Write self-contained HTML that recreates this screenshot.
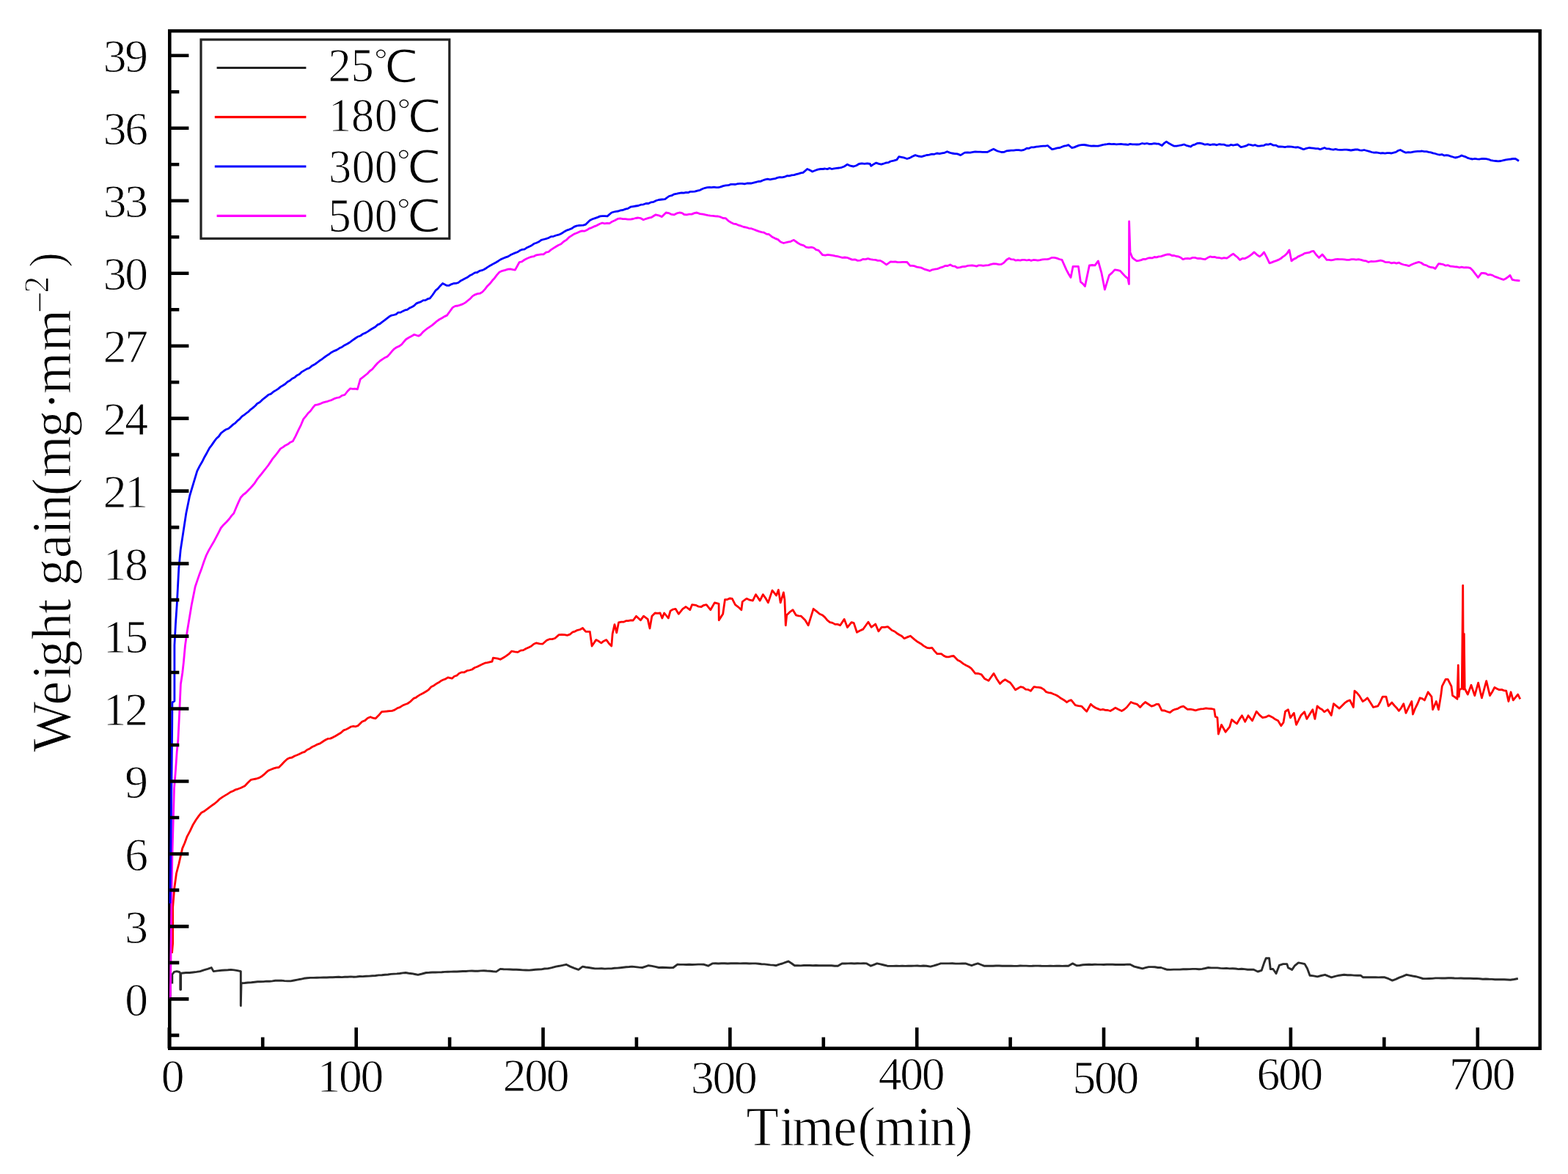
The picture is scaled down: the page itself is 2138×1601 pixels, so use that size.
<!DOCTYPE html>
<html><head><meta charset="utf-8"><title>Weight gain vs time</title>
<style>html,body{margin:0;padding:0;background:#fff;overflow:hidden}svg{display:block}
text{font-family:"Liberation Serif","Noto Serif CJK SC",serif;fill:#000}</style></head>
<body><svg width="2138" height="1601" viewBox="0 0 2138 1601">
<rect width="2138" height="1601" fill="#fff"/>

<rect x="231.3" y="42.2" width="1868.5" height="1387.5" fill="none" stroke="#000" stroke-width="4.6"/>
<g fill="none" stroke-linejoin="round" stroke-linecap="butt">
<polyline stroke="#2b2b2b" stroke-width="2.9" points="234.8,1341.5 234.8,1329.0 237.5,1325.3 241.0,1324.6 244.5,1325.5 245.8,1327.0 245.8,1349.5 246.6,1349.5 246.6,1327.4 249.0,1327.0 253.7,1326.5 258.4,1326.5 263.1,1326.0 268.0,1325.4 272.9,1324.6 278.0,1322.8 283.2,1321.3 288.3,1319.6 291.1,1324.6 296.8,1323.9 302.4,1323.2 306.6,1323.0 310.8,1322.8 315.0,1322.4 319.4,1322.9 323.9,1323.6 328.3,1324.6 328.3,1371.6 329.0,1340.7 333.6,1340.5 338.1,1340.0 342.7,1339.8 347.3,1339.3 351.3,1338.8 355.4,1338.7 359.4,1338.6 363.4,1338.1 367.4,1338.2 371.4,1337.9 375.5,1337.2 379.5,1337.2 383.7,1337.1 387.9,1337.6 392.2,1337.9 396.4,1337.9 400.9,1337.0 405.4,1336.1 409.8,1335.3 414.3,1334.3 418.8,1333.7 423.2,1333.4 427.7,1333.4 432.1,1333.3 436.6,1333.1 441.1,1333.0 445.5,1333.0 449.6,1332.7 453.7,1332.7 457.8,1332.5 461.9,1332.3 466.0,1332.6 470.1,1332.3 474.1,1332.3 478.2,1331.9 482.3,1332.2 486.4,1332.0 490.5,1331.5 494.6,1331.6 498.9,1331.2 503.3,1331.1 507.6,1330.7 512.0,1330.5 516.3,1329.9 520.7,1329.8 525.0,1329.3 529.0,1329.0 533.0,1328.4 537.0,1328.1 541.1,1327.9 545.1,1327.5 549.1,1326.9 553.1,1326.5 557.3,1327.2 561.5,1327.7 565.7,1328.5 569.9,1329.3 575.5,1328.0 581.1,1326.5 585.3,1326.3 589.5,1326.0 593.7,1326.0 598.0,1325.9 602.2,1325.7 606.4,1325.4 610.6,1325.2 614.8,1325.1 618.9,1325.0 623.0,1325.0 627.0,1324.7 631.1,1324.5 635.2,1324.5 639.3,1324.1 643.4,1324.0 647.5,1324.2 651.5,1324.2 655.6,1323.9 659.7,1323.7 663.9,1324.0 668.2,1324.2 672.4,1324.8 676.6,1325.1 682.2,1321.4 686.6,1321.8 690.9,1321.9 695.3,1322.0 699.7,1322.3 704.0,1322.2 708.4,1322.5 712.8,1322.9 717.1,1323.0 721.5,1323.1 725.7,1322.7 729.9,1322.3 734.1,1322.0 738.3,1321.9 742.5,1321.0 746.7,1320.9 752.4,1319.6 758.0,1318.1 762.7,1317.3 767.3,1316.4 772.0,1315.3 777.6,1318.1 783.2,1320.3 788.8,1322.3 794.4,1318.1 798.6,1319.0 802.8,1319.5 807.1,1320.2 811.3,1320.9 815.8,1320.9 820.3,1320.7 824.7,1321.1 829.2,1320.9 833.7,1320.9 837.7,1320.3 841.7,1320.1 845.7,1319.7 849.8,1319.2 853.8,1318.8 857.8,1318.5 861.8,1318.1 866.5,1318.6 871.1,1319.1 875.8,1319.5 880.0,1318.1 884.2,1316.7 888.9,1317.4 893.6,1318.4 898.3,1319.5 903.2,1319.3 908.1,1319.5 913.1,1319.7 918.0,1319.5 923.5,1315.3 927.6,1315.4 931.6,1315.4 935.7,1315.5 939.7,1315.2 943.8,1315.5 947.8,1315.4 951.9,1315.1 955.9,1315.1 960.0,1315.3 965.6,1317.2 971.3,1313.9 975.5,1313.7 979.7,1314.0 983.9,1313.8 988.1,1313.7 992.3,1314.0 996.5,1313.8 1000.8,1313.7 1005.0,1313.7 1009.2,1313.9 1013.4,1313.7 1017.6,1313.8 1021.8,1314.0 1026.0,1313.9 1030.2,1313.9 1034.2,1314.2 1038.2,1314.7 1042.2,1314.9 1046.3,1315.4 1050.3,1315.9 1054.3,1316.1 1058.3,1316.7 1062.5,1315.1 1066.7,1314.0 1070.9,1312.4 1075.1,1311.0 1079.3,1313.7 1083.5,1316.7 1087.7,1316.8 1091.8,1316.9 1096.0,1316.5 1100.1,1316.5 1104.2,1316.5 1108.4,1316.8 1112.5,1316.5 1116.7,1316.8 1120.8,1316.8 1125.0,1316.7 1129.4,1316.8 1133.8,1316.8 1138.1,1317.3 1142.5,1317.2 1148.1,1313.9 1152.3,1314.0 1156.5,1313.9 1160.7,1313.8 1164.9,1314.0 1169.1,1313.8 1173.3,1313.9 1177.5,1313.8 1181.7,1313.9 1187.4,1317.2 1191.6,1315.6 1195.8,1313.9 1200.5,1314.8 1205.1,1316.0 1209.8,1317.2 1213.9,1317.4 1218.0,1317.4 1222.1,1317.1 1226.2,1317.4 1230.3,1317.1 1234.4,1317.4 1238.5,1317.3 1242.6,1317.2 1246.7,1317.1 1250.8,1317.0 1254.9,1317.4 1259.0,1317.0 1263.1,1317.2 1268.7,1318.1 1273.4,1316.9 1278.1,1315.5 1282.8,1313.9 1288.4,1313.9 1294.0,1313.9 1298.5,1313.7 1303.0,1314.1 1307.5,1314.1 1312.0,1314.0 1316.5,1313.9 1320.7,1315.3 1324.9,1316.7 1329.1,1315.2 1333.3,1313.9 1337.5,1315.5 1341.7,1317.2 1345.8,1317.1 1349.9,1317.3 1354.0,1317.2 1358.1,1317.0 1362.3,1317.0 1366.4,1317.3 1370.5,1317.1 1374.6,1317.2 1378.7,1317.1 1382.8,1317.4 1386.9,1317.4 1391.0,1317.0 1395.1,1317.1 1399.2,1317.1 1403.4,1317.4 1407.5,1317.3 1411.6,1317.1 1415.7,1317.1 1419.8,1317.3 1423.9,1317.4 1428.0,1317.4 1432.1,1317.1 1436.2,1317.4 1440.4,1317.3 1444.5,1317.2 1448.6,1317.4 1452.7,1317.1 1456.8,1317.2 1462.4,1313.9 1468.0,1316.7 1472.2,1316.5 1476.5,1315.8 1480.7,1315.5 1484.9,1315.3 1488.9,1315.5 1492.9,1315.2 1496.9,1315.4 1500.9,1315.4 1504.9,1315.5 1508.9,1315.2 1513.0,1315.2 1517.0,1315.2 1521.0,1315.5 1525.0,1315.4 1529.0,1315.5 1533.0,1315.5 1537.0,1315.1 1541.0,1315.3 1546.6,1318.1 1552.2,1319.5 1557.8,1320.9 1562.0,1319.6 1566.3,1318.6 1570.5,1318.6 1574.7,1318.8 1578.9,1319.5 1583.1,1319.5 1587.3,1321.0 1591.5,1322.3 1595.8,1322.4 1600.2,1322.1 1604.5,1322.1 1608.8,1322.1 1613.2,1321.8 1617.5,1321.8 1621.9,1321.6 1626.2,1321.4 1630.5,1321.4 1634.9,1321.7 1639.2,1321.4 1643.4,1320.5 1647.6,1319.5 1651.7,1319.9 1655.8,1319.9 1660.0,1319.9 1664.1,1320.4 1668.2,1320.6 1672.3,1320.4 1676.4,1320.9 1680.6,1320.8 1684.7,1321.0 1688.8,1321.6 1692.9,1321.3 1697.0,1321.6 1701.2,1322.2 1705.3,1322.1 1709.4,1322.3 1715.0,1325.0 1720.2,1323.3 1723.7,1312.9 1726.2,1306.8 1730.6,1306.8 1732.3,1321.5 1735.8,1321.5 1740.1,1327.6 1744.4,1316.3 1749.6,1314.6 1754.8,1314.6 1756.5,1319.8 1761.7,1322.4 1765.2,1317.2 1770.4,1312.9 1774.7,1313.6 1779.0,1314.6 1782.5,1320.7 1786.0,1330.2 1791.2,1330.9 1796.3,1331.9 1801.5,1330.5 1806.7,1329.3 1811.1,1331.2 1815.4,1332.8 1820.6,1331.3 1825.8,1330.2 1832.7,1329.3 1837.2,1329.7 1841.7,1329.6 1846.2,1330.1 1850.7,1330.2 1855.2,1330.2 1858.6,1332.8 1862.8,1332.7 1867.0,1332.7 1871.2,1332.8 1875.5,1332.6 1879.7,1332.9 1883.9,1332.6 1888.1,1332.8 1893.3,1334.7 1898.5,1337.1 1903.2,1335.4 1908.0,1333.1 1912.8,1331.3 1917.5,1329.3 1921.8,1330.1 1926.2,1331.0 1930.5,1331.7 1934.8,1332.8 1940.0,1334.5 1944.3,1334.6 1948.7,1334.5 1953.0,1334.4 1957.3,1333.9 1961.6,1333.9 1965.9,1334.0 1970.3,1334.0 1974.6,1333.7 1978.9,1333.8 1983.2,1334.0 1987.6,1334.1 1991.9,1334.0 1996.2,1334.2 2000.5,1334.2 2004.9,1334.3 2009.2,1334.5 2013.4,1334.4 2017.6,1334.7 2021.8,1335.2 2025.9,1335.0 2030.1,1335.3 2034.3,1335.4 2038.5,1335.7 2042.7,1335.6 2046.9,1335.7 2051.0,1335.8 2055.2,1336.0 2059.4,1336.2 2064.6,1335.5 2069.8,1334.5"/>
<polyline stroke="#f00" stroke-width="2.8" points="234.5,1300.0 235.6,1287.0 235.6,1238.0 237.8,1211.0 240.5,1191.0 243.9,1178.0 248.7,1156.9 251.9,1149.5 255.2,1140.6 259.2,1133.2 263.3,1124.4 267.1,1118.3 270.9,1112.9 274.7,1108.2 279.0,1105.9 283.4,1102.6 289.0,1098.4 292.5,1096.0 296.1,1093.0 299.6,1089.6 303.1,1087.1 306.8,1084.9 310.6,1082.6 314.3,1080.1 317.8,1078.8 321.3,1076.8 324.8,1075.8 328.3,1074.5 333.9,1071.7 338.1,1067.3 342.3,1063.3 345.8,1062.6 349.4,1062.0 352.9,1060.9 356.4,1059.1 359.7,1056.4 362.9,1053.4 366.2,1050.7 369.7,1049.3 373.2,1047.9 376.7,1046.8 380.2,1046.5 384.0,1042.7 387.7,1038.7 391.5,1035.2 394.9,1033.6 398.2,1033.0 401.6,1031.0 404.9,1029.7 408.3,1028.2 411.8,1026.4 415.3,1025.4 418.8,1022.5 422.3,1020.9 425.8,1018.5 429.3,1017.0 432.8,1015.1 436.4,1013.9 439.9,1011.5 443.4,1009.3 446.9,1007.4 450.4,1007.1 453.9,1005.6 457.4,1003.7 461.1,1001.5 464.9,999.2 468.6,995.9 471.9,994.7 475.2,993.1 478.5,991.0 481.8,990.3 485.0,990.8 488.3,989.6 493.9,984.0 497.6,982.6 501.4,979.3 505.1,977.7 508.6,979.2 512.1,979.8 516.3,975.6 520.5,970.7 524.0,970.3 527.5,970.0 531.1,969.6 534.6,969.3 538.1,968.2 541.6,965.8 545.1,964.6 548.6,962.3 552.1,960.7 555.6,959.5 559.8,956.6 564.0,952.4 567.0,951.4 570.0,949.1 573.7,946.9 577.5,945.0 581.2,942.8 584.7,940.3 588.2,936.4 591.5,934.9 594.8,932.6 598.1,930.8 601.2,928.6 604.4,927.0 607.6,925.9 610.7,923.8 616.3,925.2 619.6,922.3 622.8,921.2 626.1,918.2 629.6,916.8 633.2,916.8 636.7,914.7 640.2,914.0 643.7,913.0 647.2,910.5 650.7,909.3 654.2,907.4 657.7,905.8 661.2,904.2 664.5,903.7 667.7,902.9 671.0,902.1 672.4,897.2 675.7,897.6 678.9,898.1 682.2,899.3 685.8,897.2 689.3,895.1 693.5,892.2 697.7,888.0 701.9,888.9 706.1,889.4 709.8,887.1 713.6,886.6 717.3,884.5 720.8,882.9 724.3,881.3 727.9,878.2 731.4,876.8 735.6,877.9 739.8,878.2 745.4,873.3 749.1,871.7 752.9,871.7 756.6,870.5 762.2,865.6 766.0,865.5 769.7,865.6 773.5,866.3 777.0,865.2 780.5,862.2 784.0,861.1 787.5,859.3 791.0,858.5 794.5,856.5 798.7,861.4 804.3,861.4 807.1,881.0 812.7,872.6 816.2,874.3 819.8,876.8 823.3,874.2 826.8,872.6 830.3,877.4 833.8,881.0 835.2,864.2 838.0,851.6 840.8,862.8 843.6,848.8 846.9,848.2 850.2,848.2 853.5,846.7 856.7,846.7 860.0,845.9 863.3,846.0 867.5,840.3 873.4,845.8 877.6,840.2 883.2,844.4 886.0,857.0 888.9,840.2 893.1,836.0 896.6,836.3 900.1,836.0 902.9,843.0 905.7,836.0 911.3,843.0 914.1,833.1 917.6,831.0 921.1,830.3 925.3,837.3 930.9,830.3 935.2,827.5 940.8,831.7 943.6,824.7 949.2,825.4 952.7,827.2 956.2,827.5 959.7,825.3 963.2,824.7 968.8,831.7 974.4,821.9 980.1,823.3 980.3,845.8 985.7,837.3 988.5,817.7 991.8,817.6 995.0,816.0 998.3,816.3 1002.5,824.7 1006.7,827.8 1010.9,831.7 1012.3,820.5 1017.9,816.3 1022.2,818.2 1026.4,819.1 1030.6,810.7 1036.2,819.1 1040.4,810.7 1043.9,815.8 1047.4,821.9 1053.0,805.1 1058.6,812.1 1061.4,804.4 1064.2,821.9 1068.4,807.9 1069.9,817.7 1071.3,852.8 1072.7,838.8 1076.9,834.7 1081.1,831.7 1085.3,838.8 1088.8,839.8 1092.3,840.2 1097.9,845.8 1102.1,852.8 1109.1,830.3 1113.3,833.6 1117.6,837.3 1121.1,838.7 1124.6,841.6 1128.1,845.9 1131.6,848.6 1135.1,849.4 1138.6,851.4 1142.1,851.4 1145.6,852.8 1151.2,844.4 1155.4,855.6 1161.0,848.6 1164.2,849.6 1168.4,862.3 1172.6,860.0 1176.8,858.1 1180.3,853.3 1183.9,848.2 1188.1,855.3 1193.7,851.0 1197.9,860.9 1202.1,855.3 1206.3,855.3 1210.5,854.6 1216.1,859.5 1219.6,861.0 1223.1,863.7 1226.4,865.8 1229.7,867.6 1233.0,870.7 1237.2,868.9 1241.4,867.2 1247.0,872.1 1251.2,875.3 1255.4,877.7 1259.6,880.9 1263.8,883.3 1267.3,883.9 1270.8,883.3 1274.3,887.9 1277.9,891.7 1283.5,891.7 1287.0,894.4 1290.5,895.9 1293.8,895.8 1297.0,894.9 1300.3,894.5 1305.9,900.2 1309.6,902.1 1313.4,905.1 1317.1,907.2 1320.7,909.0 1324.2,911.4 1329.8,918.4 1334.0,918.5 1338.2,919.8 1342.4,925.4 1348.0,928.2 1351.5,923.2 1355.0,918.4 1359.2,926.0 1363.5,932.4 1367.0,929.0 1370.5,926.8 1374.0,929.0 1377.5,931.0 1381.0,935.7 1384.5,940.8 1388.0,938.7 1391.5,936.6 1395.0,937.4 1398.5,940.1 1402.0,940.4 1405.5,942.2 1409.8,936.6 1413.1,937.2 1416.3,937.4 1419.6,938.0 1423.1,940.1 1426.6,943.7 1429.9,944.7 1433.1,945.0 1436.4,946.5 1439.7,947.7 1442.9,949.5 1446.2,952.1 1450.4,954.4 1454.6,957.7 1457.6,955.6 1460.6,954.7 1466.2,961.7 1470.4,962.6 1474.6,963.1 1478.2,966.7 1481.7,970.2 1487.3,960.3 1490.6,963.2 1493.8,965.2 1497.1,966.6 1500.5,968.0 1503.8,967.3 1507.2,968.3 1510.5,968.5 1513.9,969.5 1517.4,967.5 1520.9,965.2 1525.2,967.5 1529.4,969.5 1532.9,967.5 1536.4,964.5 1542.0,957.5 1546.2,959.2 1550.4,960.3 1554.6,964.5 1558.1,960.6 1561.6,957.5 1565.8,960.2 1570.1,963.1 1573.4,962.2 1576.6,960.4 1579.9,960.3 1584.1,968.8 1587.8,969.0 1591.6,970.5 1595.3,971.6 1598.8,968.8 1602.3,967.3 1606.1,966.3 1609.8,964.1 1613.6,963.1 1619.2,967.3 1622.9,967.2 1626.7,967.8 1630.4,968.8 1633.9,967.6 1637.4,966.9 1640.9,966.7 1644.4,965.9 1648.1,966.3 1651.9,966.5 1655.6,967.3 1657.1,977.2 1659.9,978.6 1661.3,1001.0 1665.5,988.4 1671.1,998.2 1676.7,991.2 1679.5,981.4 1683.0,984.4 1686.5,987.0 1690.0,980.9 1693.5,975.8 1697.7,984.2 1702.0,975.8 1707.6,982.8 1713.2,970.2 1717.4,975.1 1721.6,978.6 1725.8,977.9 1730.0,975.8 1735.6,978.6 1739.1,981.1 1742.6,982.8 1746.8,989.8 1750.0,985.2 1752.5,970.2 1756.4,967.7 1759.5,978.8 1764.3,972.4 1767.5,988.3 1770.7,981.8 1773.9,975.6 1778.6,970.8 1781.8,980.4 1785.8,974.1 1789.8,967.7 1792.9,980.4 1796.1,962.9 1799.3,965.7 1802.5,967.4 1805.7,970.8 1810.4,967.7 1815.2,975.6 1818.4,959.7 1822.3,962.8 1826.3,966.1 1830.3,962.1 1834.3,958.1 1837.4,956.0 1840.6,954.9 1845.4,964.5 1847.0,942.2 1850.2,944.8 1853.4,948.6 1858.1,956.5 1861.3,954.6 1864.5,951.8 1868.5,957.9 1872.5,964.5 1875.7,963.7 1878.8,962.9 1882.0,957.2 1885.2,950.2 1890.0,950.2 1893.1,962.9 1897.9,958.1 1901.1,962.0 1904.2,965.2 1907.4,969.3 1910.6,965.3 1913.8,959.7 1917.0,972.4 1921.0,964.2 1924.9,956.5 1926.5,974.0 1929.7,965.8 1932.9,959.5 1936.1,951.8 1939.2,952.7 1942.4,954.9 1947.2,943.8 1952.0,950.2 1953.6,967.7 1958.3,956.5 1961.5,967.7 1964.7,948.6 1966.3,935.9 1971.1,926.3 1974.2,926.3 1979.0,935.9 1980.6,948.6 1983.8,950.6 1987.0,953.3 1988.3,907.2 1989.2,950.0 1990.1,940.6 1993.3,939.0 1994.7,798.3 1995.4,940.0 1996.3,864.3 1997.2,939.0 2001.3,947.0 2006.0,934.3 2010.8,948.6 2015.6,931.1 2020.4,951.8 2026.7,928.7 2031.5,948.6 2034.7,943.5 2037.9,937.4 2041.1,939.3 2044.2,940.6 2047.4,940.4 2050.6,941.6 2053.8,942.2 2056.9,956.5 2060.1,943.8 2063.3,954.9 2066.5,950.8 2069.7,947.0 2072.8,953.3"/>
<polyline stroke="#f0f" stroke-width="2.8" points="232.3,1362.0 233.0,1300.0 233.8,1230.0 234.8,1170.0 236.2,1120.0 237.5,1075.0 239.5,1050.0 241.2,1025.0 242.8,1010.0 244.7,971.0 246.4,933.0 248.8,917.5 250.4,903.0 252.5,880.0 255.0,862.5 261.2,825.0 266.2,800.0 269.2,791.1 272.2,782.4 275.2,774.4 278.2,765.5 281.2,757.5 284.6,750.6 287.9,744.9 291.2,739.3 294.6,732.9 297.9,726.6 301.2,720.0 305.1,715.4 308.9,711.7 312.7,707.5 315.7,703.4 318.8,700.0 322.0,692.3 325.2,684.9 328.4,678.2 331.6,674.7 334.7,672.5 337.9,669.2 341.0,666.1 344.2,662.5 347.3,658.8 350.4,653.9 353.5,650.0 356.5,646.4 359.6,642.4 362.7,638.5 365.8,634.5 368.9,629.9 372.3,624.8 375.6,621.0 379.0,616.6 382.4,611.9 385.8,609.9 389.1,607.4 392.5,605.8 395.8,603.2 399.2,601.8 403.1,594.6 407.1,586.1 410.5,579.3 413.8,571.4 417.0,567.6 420.1,563.5 423.3,560.5 426.4,556.2 429.6,552.3 432.8,551.9 436.0,550.9 439.2,549.4 442.5,548.4 445.7,547.7 448.9,546.5 452.1,545.6 455.7,543.7 459.3,542.5 462.8,541.8 466.4,539.3 470.0,538.5 473.9,533.5 477.7,529.8 480.9,530.3 484.2,530.2 487.4,530.8 491.3,517.2 494.5,514.7 497.8,512.0 501.0,509.5 504.2,506.0 507.5,503.7 510.7,499.8 514.5,495.5 518.4,492.0 521.6,489.9 524.9,487.7 528.1,486.2 531.3,482.9 534.6,478.8 537.8,475.6 541.0,473.5 544.3,472.1 547.5,469.8 553.3,463.0 557.2,460.5 561.0,458.5 564.9,456.2 570.7,458.2 573.8,456.2 576.9,452.6 580.0,450.0 583.1,447.7 586.2,445.6 589.4,443.4 592.7,440.6 595.9,437.8 599.3,435.5 602.6,433.7 606.0,431.6 609.4,430.1 613.3,424.7 617.2,419.4 620.7,417.4 624.2,417.0 627.6,415.9 631.1,414.6 634.6,412.6 637.8,410.0 641.1,407.4 644.3,403.9 647.7,401.8 651.0,400.7 654.4,400.2 657.8,398.1 661.1,394.6 664.5,390.2 667.8,387.1 671.1,382.8 674.4,379.2 677.8,374.6 681.1,371.0 685.0,369.3 688.8,368.3 692.7,367.1 695.9,366.9 699.2,367.6 702.4,368.1 708.2,357.5 711.5,356.8 714.8,354.5 718.1,352.7 721.5,351.3 724.8,350.1 728.1,349.6 731.4,347.8 734.6,347.3 737.9,346.8 741.1,346.8 744.5,344.2 747.9,343.5 751.3,340.7 754.8,338.4 758.2,336.2 761.6,334.2 765.0,332.8 768.5,329.5 772.0,327.4 775.5,323.9 779.0,321.6 782.8,319.1 786.5,317.8 790.3,315.9 793.6,314.8 796.8,315.2 800.1,313.8 803.4,311.6 806.6,310.6 809.9,308.9 813.6,307.6 817.4,305.5 821.1,304.0 824.4,304.9 827.7,304.4 831.0,304.7 834.7,302.2 838.5,300.4 842.2,298.4 845.7,297.9 849.2,298.6 852.7,298.6 856.2,299.1 859.7,299.1 863.2,298.5 866.7,297.5 870.2,297.0 873.8,297.7 877.3,299.8 881.0,298.3 884.8,297.1 888.5,296.3 894.1,292.8 898.3,293.8 902.5,295.6 908.1,290.0 911.8,290.6 915.6,292.4 919.3,292.8 922.8,290.9 926.4,290.0 929.7,290.3 932.9,292.5 936.2,292.8 939.7,292.2 943.2,292.1 946.7,290.6 950.2,290.0 954.4,291.6 958.6,292.1 962.0,292.9 965.4,293.6 968.7,294.1 972.1,294.3 975.5,294.9 979.0,295.0 982.5,295.9 986.0,297.5 989.5,297.7 993.0,301.1 996.5,303.3 1000.0,305.1 1003.5,305.5 1007.1,307.2 1010.6,308.2 1014.1,309.5 1017.6,310.1 1021.1,311.3 1024.6,311.7 1028.1,313.0 1031.6,314.4 1035.1,315.6 1038.6,316.6 1041.9,317.2 1045.1,319.1 1048.4,319.5 1052.6,322.9 1056.8,325.1 1060.7,326.6 1064.5,330.0 1068.4,331.5 1074.0,330.1 1078.2,329.3 1082.4,327.3 1088.1,331.5 1091.8,333.6 1095.6,334.6 1099.3,337.1 1102.8,337.7 1106.3,337.1 1109.6,338.0 1112.8,340.6 1116.1,341.4 1121.7,347.7 1125.2,348.1 1128.8,347.4 1132.3,347.8 1135.8,348.4 1139.0,349.2 1142.2,349.7 1145.4,350.5 1148.6,351.4 1151.8,351.0 1155.0,351.3 1158.2,352.6 1161.9,354.1 1165.7,353.8 1169.4,355.4 1172.9,355.2 1176.5,353.5 1180.0,353.7 1183.5,352.6 1186.9,353.6 1190.2,354.2 1193.6,354.4 1196.9,355.4 1200.3,355.4 1204.5,357.8 1208.7,361.0 1214.3,356.8 1217.5,357.1 1220.7,356.8 1223.9,357.6 1227.2,357.6 1230.4,357.3 1233.6,357.4 1236.8,357.5 1241.0,362.4 1244.1,362.3 1247.2,362.9 1250.2,364.2 1253.3,364.6 1256.4,365.2 1260.2,367.1 1263.9,368.2 1267.7,369.4 1271.2,367.8 1274.7,367.1 1278.2,366.6 1281.7,365.2 1285.2,364.2 1288.7,362.4 1292.2,362.5 1295.7,361.0 1299.0,362.9 1302.2,363.2 1305.5,365.2 1309.0,364.6 1312.5,363.6 1316.1,363.5 1319.6,362.4 1322.6,362.1 1325.6,362.0 1328.6,362.4 1331.6,363.1 1334.6,361.8 1337.6,361.9 1340.6,362.4 1344.2,361.9 1347.8,361.6 1351.4,360.4 1355.0,359.7 1358.5,359.8 1362.0,360.7 1365.5,360.4 1369.0,358.1 1372.5,354.3 1376.0,352.2 1379.0,353.7 1382.0,353.8 1385.0,355.2 1388.0,354.7 1391.0,355.1 1394.0,354.4 1397.0,354.4 1400.0,355.0 1403.0,354.3 1406.0,355.4 1409.0,354.5 1412.0,354.6 1415.0,355.2 1418.2,354.6 1421.4,353.9 1424.6,353.6 1427.9,353.6 1431.1,352.8 1434.3,351.3 1437.5,351.4 1441.0,352.1 1444.5,353.5 1448.0,354.4 1451.0,361.1 1454.0,367.9 1457.0,373.5 1460.0,378.4 1463.0,363.4 1466.7,363.4 1470.4,363.4 1473.4,384.4 1476.4,386.8 1479.4,390.4 1485.4,361.9 1489.2,361.5 1493.0,361.9 1497.4,355.9 1502.0,372.4 1506.4,394.9 1512.4,375.4 1516.2,372.1 1520.0,367.9 1523.7,368.4 1527.4,369.4 1530.9,373.3 1534.5,377.1 1538.0,379.9 1539.4,387.4 1539.6,301.9 1541.0,343.9 1544.0,351.4 1547.0,353.8 1550.0,355.9 1553.0,355.4 1556.0,354.6 1559.0,353.4 1562.0,353.5 1565.0,352.2 1568.0,351.7 1571.0,351.9 1574.0,350.5 1577.0,350.9 1580.0,349.9 1583.0,349.6 1586.0,348.6 1589.0,347.6 1592.0,346.9 1595.0,347.0 1598.0,348.5 1601.0,348.5 1604.0,349.5 1607.0,349.9 1610.0,351.3 1613.0,353.7 1616.3,352.7 1619.6,352.3 1622.8,352.8 1626.1,351.4 1629.4,351.4 1632.8,352.5 1636.2,352.4 1639.6,353.2 1643.0,353.7 1646.5,351.6 1650.0,349.9 1653.0,350.6 1656.0,350.3 1659.0,351.4 1662.4,351.5 1665.8,352.4 1669.1,351.6 1672.5,352.2 1675.5,350.4 1678.5,348.0 1681.5,346.2 1684.5,348.7 1687.5,351.0 1690.5,354.4 1694.0,352.5 1697.5,352.6 1701.0,350.7 1704.0,348.9 1707.0,346.6 1710.0,343.9 1713.8,347.3 1717.5,349.9 1720.5,347.5 1723.5,343.9 1727.2,350.9 1731.0,358.9 1734.0,357.9 1737.0,356.6 1740.0,355.6 1743.0,354.4 1746.0,352.8 1749.0,350.3 1752.0,348.3 1755.0,345.4 1758.0,340.9 1761.0,355.9 1764.0,353.4 1767.0,352.1 1770.0,349.9 1773.0,348.6 1776.0,347.2 1779.0,345.4 1782.0,344.8 1785.0,344.4 1788.0,342.9 1791.0,342.4 1794.7,347.5 1798.4,351.4 1803.0,346.9 1806.0,350.5 1809.0,354.4 1812.0,354.4 1815.0,354.8 1818.0,354.4 1821.0,353.7 1824.0,353.5 1827.0,353.6 1830.0,353.7 1833.2,353.9 1836.4,354.4 1839.6,354.3 1842.8,353.6 1846.0,353.6 1849.2,354.1 1852.4,353.7 1855.8,354.3 1859.2,355.4 1862.5,355.8 1865.9,357.4 1869.2,356.5 1872.5,356.6 1875.8,356.4 1879.1,355.8 1882.4,355.2 1885.4,355.8 1888.4,357.3 1891.4,357.6 1894.4,357.7 1897.4,358.9 1900.8,358.1 1904.1,359.1 1907.5,358.2 1910.9,360.0 1914.2,361.0 1917.6,361.7 1921.0,362.7 1924.4,361.1 1927.8,359.5 1931.1,358.4 1934.5,357.4 1938.0,358.5 1941.5,361.0 1945.0,361.9 1948.0,363.6 1951.0,364.5 1954.0,364.8 1957.0,366.4 1961.5,359.7 1964.8,360.0 1968.0,360.7 1971.2,362.2 1974.5,361.7 1977.8,363.2 1981.0,363.4 1984.0,363.9 1987.0,364.0 1990.0,364.9 1993.0,364.2 1996.0,364.9 1999.0,364.6 2002.0,364.8 2005.0,365.7 2008.5,369.3 2011.9,373.9 2015.4,378.4 2020.0,372.4 2023.0,372.5 2026.0,373.0 2029.0,374.9 2032.0,374.5 2035.0,375.4 2038.0,377.1 2041.0,378.1 2044.0,379.3 2047.0,380.4 2050.0,381.4 2053.0,380.0 2056.0,377.9 2059.0,375.4 2062.0,381.4 2065.5,382.2 2068.9,382.5 2072.4,382.9"/>
<polyline stroke="#00f" stroke-width="2.8" points="232.0,1232.0 233.0,1150.0 234.0,1060.0 234.7,990.0 234.9,958.0 237.9,956.0 237.9,880.0 239.5,850.0 241.2,825.0 243.8,775.0 246.2,750.0 250.0,725.0 253.8,700.0 258.7,676.0 268.8,642.3 272.2,635.6 275.6,629.8 278.9,623.2 282.3,617.2 285.7,610.8 288.8,606.9 292.0,602.1 295.1,598.0 298.3,595.1 301.4,590.6 304.8,588.0 308.1,585.7 311.5,584.5 314.9,581.6 317.9,578.9 320.9,576.8 323.9,573.7 326.9,571.3 329.9,567.9 332.9,565.8 335.9,563.5 338.9,561.3 341.9,558.3 344.9,556.1 347.9,553.5 350.9,550.2 353.9,548.7 356.9,545.9 359.9,543.3 363.1,540.8 366.3,538.2 369.5,537.1 372.8,534.3 376.0,532.4 379.2,530.4 382.4,527.6 385.6,525.7 388.8,523.7 392.0,520.7 395.3,519.0 398.5,516.3 401.7,514.8 404.9,511.9 408.3,510.3 411.6,507.1 415.0,505.1 418.4,503.1 421.7,502.0 425.1,499.1 428.4,497.3 431.8,495.0 435.2,492.3 438.6,490.1 442.0,487.5 445.3,485.1 448.7,483.0 452.1,480.4 455.7,478.6 459.3,477.1 462.8,474.8 466.4,473.2 470.0,470.7 473.4,469.0 476.8,467.0 480.2,464.4 483.6,462.0 487.5,459.3 491.3,458.0 495.2,455.2 498.6,453.9 501.9,451.9 505.3,449.5 508.7,447.5 511.8,445.7 514.9,442.9 518.0,441.6 521.1,439.1 524.2,436.9 527.4,434.3 530.7,431.8 533.9,430.1 536.9,429.5 540.0,428.6 543.0,426.2 546.1,426.1 549.1,424.4 552.2,422.9 555.2,422.3 558.3,420.1 561.4,418.8 564.5,417.0 567.6,413.9 570.7,412.6 573.8,411.6 576.9,409.6 580.0,409.4 583.1,407.7 586.2,406.8 590.0,402.0 593.9,396.2 597.1,393.6 600.4,389.7 603.6,386.5 609.4,389.4 612.5,389.3 615.6,387.6 618.7,386.5 621.8,386.4 624.9,385.5 628.1,382.9 631.4,381.2 634.6,379.6 637.8,377.9 641.1,375.4 644.3,373.9 647.5,371.8 650.7,371.5 654.0,369.3 657.2,368.7 660.4,367.2 663.6,365.2 666.8,363.1 670.1,361.3 673.3,359.4 676.5,357.7 679.8,355.7 683.0,353.6 686.2,352.2 689.5,350.9 692.7,349.9 695.9,347.8 699.2,346.3 702.4,344.9 705.6,343.8 708.8,341.6 712.0,340.3 715.3,339.8 718.5,337.7 721.7,336.2 724.9,334.7 728.2,332.3 731.4,331.2 734.6,329.8 737.9,327.4 741.1,326.5 744.5,325.6 747.9,324.5 751.3,322.6 754.8,322.3 758.2,321.0 761.6,320.2 765.0,318.8 769.2,316.1 773.4,313.8 776.5,312.8 779.6,311.6 782.7,309.4 785.8,308.1 788.9,307.5 792.2,307.3 795.4,307.2 798.7,306.1 804.3,300.5 807.8,298.8 811.3,297.6 814.8,296.4 818.3,294.9 821.6,294.6 824.8,294.7 828.1,294.9 833.8,290.0 836.9,289.0 840.0,288.4 843.0,288.0 846.1,286.9 849.2,286.5 852.7,285.1 856.2,284.4 859.7,282.2 863.2,281.6 866.7,281.0 870.2,280.5 873.8,279.2 877.3,278.8 880.8,277.5 884.3,277.5 887.8,275.8 891.3,275.3 894.8,273.5 898.3,272.5 902.5,272.0 906.7,271.7 912.3,267.5 915.8,266.7 919.3,264.8 922.9,264.1 926.4,263.3 929.4,262.8 932.4,263.2 935.4,262.3 938.4,262.6 941.4,261.3 944.4,261.3 947.4,261.2 950.9,260.2 954.4,259.3 957.9,257.5 961.4,256.3 964.4,255.7 967.4,255.4 970.4,255.7 973.5,255.1 976.5,255.7 979.5,255.6 982.5,254.9 986.0,253.6 989.5,252.8 993.0,252.7 996.5,251.4 999.6,251.4 1002.7,251.5 1005.9,250.7 1009.0,250.3 1012.1,250.3 1015.2,250.9 1018.4,250.0 1021.5,249.9 1024.6,250.0 1027.7,249.1 1030.8,248.3 1033.8,247.5 1036.9,247.4 1040.0,246.0 1043.3,244.9 1046.7,244.1 1050.0,244.8 1053.3,244.1 1056.7,243.7 1060.0,242.4 1063.3,241.7 1066.5,241.9 1069.8,241.2 1073.1,239.7 1076.3,239.8 1079.6,238.9 1082.7,238.7 1085.8,237.7 1088.9,236.8 1092.0,235.8 1095.1,235.4 1100.7,230.5 1104.2,232.0 1107.7,234.0 1111.4,232.5 1115.2,231.1 1118.9,230.5 1122.0,230.5 1125.0,230.0 1128.1,230.6 1131.1,229.4 1134.2,230.5 1137.2,229.8 1140.7,229.4 1144.2,229.0 1147.7,228.3 1151.2,227.0 1155.4,224.2 1159.6,226.2 1163.8,227.0 1167.6,225.7 1171.3,223.5 1175.1,222.8 1178.8,223.4 1182.6,222.8 1186.3,223.5 1187.7,226.3 1191.2,223.9 1194.7,222.1 1198.2,223.4 1201.7,224.2 1204.8,223.2 1208.0,222.0 1211.2,221.7 1214.3,220.0 1218.5,219.1 1222.8,217.9 1225.6,213.7 1229.3,214.4 1233.1,215.2 1236.8,216.5 1240.5,215.4 1244.3,213.2 1248.0,211.6 1252.2,213.0 1256.4,213.7 1259.9,212.6 1263.5,211.5 1267.0,211.1 1270.5,210.2 1274.0,210.3 1277.5,209.0 1281.0,209.6 1284.5,208.8 1288.0,208.3 1291.5,206.7 1294.8,208.1 1298.0,209.0 1301.3,209.5 1305.5,209.9 1309.8,211.6 1315.4,208.1 1319.1,208.0 1322.9,208.1 1326.6,207.4 1329.9,206.8 1333.1,207.1 1336.4,207.1 1339.7,207.4 1342.9,207.3 1346.2,207.4 1350.5,205.3 1354.7,203.2 1360.0,206.0 1365.5,207.5 1368.8,207.4 1372.1,205.9 1375.4,205.5 1378.7,205.1 1382.0,205.2 1385.5,204.7 1389.0,204.6 1392.5,205.2 1396.2,204.4 1400.0,202.2 1403.2,202.3 1406.4,200.8 1409.6,200.9 1412.9,200.2 1416.1,199.8 1419.3,199.4 1422.5,199.2 1425.5,199.1 1428.5,198.5 1431.5,201.2 1434.5,203.7 1438.0,202.8 1441.5,201.8 1445.0,201.5 1448.0,200.3 1451.0,199.1 1454.0,198.7 1457.0,197.7 1461.4,201.5 1464.8,200.9 1468.2,199.4 1471.6,198.1 1475.0,197.7 1478.2,197.5 1481.5,198.0 1484.7,198.6 1487.9,199.1 1491.2,198.8 1494.4,199.2 1497.4,199.1 1500.4,198.4 1503.4,197.6 1506.4,197.0 1509.4,196.7 1512.4,196.2 1515.6,196.6 1518.9,196.3 1522.1,196.8 1525.3,196.6 1528.5,196.4 1531.8,196.9 1535.0,197.0 1538.0,197.3 1541.0,196.4 1544.0,196.9 1547.0,196.9 1550.0,197.0 1553.7,196.8 1557.4,195.5 1560.6,196.2 1563.9,195.5 1567.1,196.4 1570.3,196.3 1573.5,195.7 1576.8,196.0 1580.0,196.2 1584.4,198.5 1587.4,195.3 1590.4,193.2 1593.9,195.6 1597.5,197.4 1601.0,199.2 1604.3,199.2 1607.7,198.5 1611.1,197.8 1614.4,197.0 1617.4,198.3 1620.4,199.1 1623.4,200.0 1626.4,197.9 1629.4,197.1 1632.4,195.5 1635.9,195.2 1639.4,195.9 1643.0,197.2 1646.5,196.6 1650.0,197.7 1653.0,197.0 1656.0,196.9 1659.0,197.8 1662.0,196.7 1665.0,197.0 1668.8,197.1 1672.5,198.5 1675.5,198.7 1678.5,197.4 1681.5,198.1 1684.5,197.5 1687.5,197.0 1692.0,200.7 1695.5,199.9 1699.0,198.9 1702.5,197.0 1705.5,197.6 1708.5,198.3 1711.5,197.7 1714.5,199.1 1717.5,199.2 1720.5,198.6 1723.5,198.3 1726.5,196.8 1729.5,197.1 1732.5,196.2 1736.0,198.1 1739.5,198.1 1743.0,200.0 1746.0,199.8 1749.0,200.2 1752.0,200.7 1755.0,200.0 1758.0,199.9 1761.0,200.1 1764.0,200.7 1767.0,201.0 1770.0,200.7 1773.7,202.1 1777.4,203.7 1781.2,202.4 1785.0,201.5 1788.0,201.8 1791.0,202.2 1794.0,202.7 1797.0,202.7 1800.0,203.7 1803.0,202.6 1806.0,201.5 1809.0,202.9 1812.0,202.8 1815.0,203.7 1818.0,204.1 1821.0,203.4 1824.0,204.2 1827.0,204.4 1830.0,204.3 1833.0,204.2 1836.0,204.2 1839.0,204.5 1842.0,205.0 1845.0,204.5 1848.0,204.0 1851.0,203.9 1854.0,204.8 1857.0,205.1 1860.0,204.5 1863.5,205.5 1866.9,206.4 1870.4,207.5 1873.4,208.2 1876.4,207.8 1879.4,208.3 1882.4,209.0 1885.4,208.6 1888.4,209.1 1891.4,208.7 1894.4,208.6 1897.4,209.0 1900.4,208.1 1903.4,207.4 1906.4,205.3 1909.4,204.5 1913.2,206.6 1917.0,208.2 1920.2,207.7 1923.5,207.9 1926.8,207.2 1930.0,206.7 1933.0,206.4 1936.0,206.3 1939.0,206.0 1942.0,206.7 1945.0,206.7 1948.0,207.3 1951.0,207.8 1954.0,208.8 1957.0,209.5 1960.0,210.5 1963.0,211.2 1966.0,210.6 1969.0,212.1 1972.0,211.7 1975.0,212.0 1978.0,213.1 1981.0,214.0 1984.0,215.0 1987.0,214.5 1990.0,213.5 1993.0,212.0 1996.0,213.2 1999.0,214.2 2002.0,215.7 2005.0,216.5 2008.0,217.0 2011.0,216.4 2014.0,216.8 2017.0,217.1 2020.0,216.5 2023.0,216.5 2026.3,216.7 2029.6,217.3 2032.8,218.6 2036.1,219.1 2039.4,219.5 2042.9,219.9 2046.5,219.5 2050.0,218.7 2053.3,217.9 2056.6,217.4 2059.8,217.0 2063.1,216.5 2066.4,216.5 2071.0,219.5"/>
</g>
<path d="M231.3 1362.4H257.4 M231.3 1263.4H257.4 M231.3 1164.5H257.4 M231.3 1065.5H257.4 M231.3 966.5H257.4 M231.3 867.6H257.4 M231.3 768.6H257.4 M231.3 669.6H257.4 M231.3 570.6H257.4 M231.3 471.7H257.4 M231.3 372.7H257.4 M231.3 273.7H257.4 M231.3 174.8H257.4 M231.3 75.8H257.4 M231.3 1411.9H244.3 M231.3 1312.9H244.3 M231.3 1213.9H244.3 M231.3 1115.0H244.3 M231.3 1016.0H244.3 M231.3 917.0H244.3 M231.3 818.1H244.3 M231.3 719.1H244.3 M231.3 620.1H244.3 M231.3 521.2H244.3 M231.3 422.2H244.3 M231.3 323.2H244.3 M231.3 224.2H244.3 M231.3 125.3H244.3 M230.8 1429.7V1401.2 M485.7 1429.7V1401.2 M740.5 1429.7V1401.2 M995.4 1429.7V1401.2 M1250.2 1429.7V1401.2 M1505.0 1429.7V1401.2 M1759.9 1429.7V1401.2 M2014.8 1429.7V1401.2 M358.2 1429.7V1414.5 M613.1 1429.7V1414.5 M867.9 1429.7V1414.5 M1122.8 1429.7V1414.5 M1377.6 1429.7V1414.5 M1632.5 1429.7V1414.5 M1887.3 1429.7V1414.5" stroke="#000" stroke-width="4.6" fill="none"/>
<g font-size="63.5" text-anchor="end" letter-spacing="-2.3" stroke="#fff" stroke-width="0.9">
<text x="199.6" y="1384.7">0</text>
<text x="199.6" y="1285.7">3</text>
<text x="199.6" y="1186.8">6</text>
<text x="199.6" y="1087.8">9</text>
<text x="199.6" y="988.8">12</text>
<text x="199.6" y="889.9">15</text>
<text x="199.6" y="790.9">18</text>
<text x="199.6" y="691.9">21</text>
<text x="199.6" y="592.9">24</text>
<text x="199.6" y="494.0">27</text>
<text x="199.6" y="395.0">30</text>
<text x="199.6" y="296.0">33</text>
<text x="199.6" y="197.1">36</text>
<text x="199.6" y="98.1">39</text>
</g>
<g font-size="63.5" text-anchor="middle" letter-spacing="-2.3" stroke="#fff" stroke-width="0.9">
<text x="234.6" y="1489.1">0</text>
<text x="476.8" y="1489.1">100</text>
<text x="730.0" y="1488.3">200</text>
<text x="986.2" y="1490.9">300</text>
<text x="1242.0" y="1485.7">400</text>
<text x="1506.8" y="1490.9">500</text>
<text x="1757.8" y="1485.7">600</text>
<text x="2020.1" y="1485.7">700</text>
</g>
<text transform="translate(1000.0,1562) scale(0.95,1)" font-size="76.5" stroke="#fff" stroke-width="1" x="18.41 66.50 84.60 143.43 178.43 202.60 262.92 281.72 318.06">Time(min)</text>
<text transform="translate(96.0,1030.0) rotate(-90) scale(0.95,1)" font-size="77" stroke="#fff" stroke-width="1"><tspan x="4.56 72.04 109.12 126.48 165.88 203.25 208.28 243.32 282.98 317.23 336.13 372.30 398.70 456.27 495.68 518.80 579.96" y="0">Weight gain(mg·mm</tspan><tspan font-size="56.6" x="634.34" y="-23.10">−</tspan><tspan font-size="48" x="663.68" y="-29.80">2</tspan><tspan font-size="65" x="700.22" y="-10.80">)</tspan></text>
<rect x="274" y="54" width="338.8" height="271.3" fill="#fff" stroke="#222" stroke-width="3.2"/>
<line x1="295.6" y1="92.5" x2="417.4" y2="92.5" stroke="#222" stroke-width="3.2"/>
<line x1="292.8" y1="159.6" x2="417.4" y2="159.6" stroke="#f00" stroke-width="3.2"/>
<line x1="292.8" y1="227" x2="417.4" y2="227" stroke="#00f" stroke-width="3.2"/>
<line x1="295.6" y1="294.3" x2="417.4" y2="294.3" stroke="#f0f" stroke-width="3.2"/>
<text transform="translate(440.0,111.2) scale(0.96,1)" font-size="65" stroke="#fff" stroke-width="1" x="7.87 40.08">25</text>
<text transform="translate(440.0,179.4) scale(0.96,1)" font-size="65" stroke="#fff" stroke-width="1" x="8.35 40.55 73.77">180</text>
<text transform="translate(440.0,248.6) scale(0.96,1)" font-size="65" stroke="#fff" stroke-width="1" x="8.45 41.38 73.77">300</text>
<text transform="translate(440.0,315.6) scale(0.96,1)" font-size="65" stroke="#fff" stroke-width="1" x="7.79 41.38 73.77">500</text>
<text transform="translate(509.1,111.5) scale(1.09,1)" font-size="61" style="font-family:'Liberation Serif','WenQuanYi Zen Hei','Noto Sans CJK SC',sans-serif" stroke="#fff" stroke-width="1.6">℃</text>
<text transform="translate(540.5,179.7) scale(1.09,1)" font-size="61" style="font-family:'Liberation Serif','WenQuanYi Zen Hei','Noto Sans CJK SC',sans-serif" stroke="#fff" stroke-width="1.6">℃</text>
<text transform="translate(540.1,248.9) scale(1.09,1)" font-size="61" style="font-family:'Liberation Serif','WenQuanYi Zen Hei','Noto Sans CJK SC',sans-serif" stroke="#fff" stroke-width="1.6">℃</text>
<text transform="translate(540.1,315.9) scale(1.09,1)" font-size="61" style="font-family:'Liberation Serif','WenQuanYi Zen Hei','Noto Sans CJK SC',sans-serif" stroke="#fff" stroke-width="1.6">℃</text>
</svg></body></html>
